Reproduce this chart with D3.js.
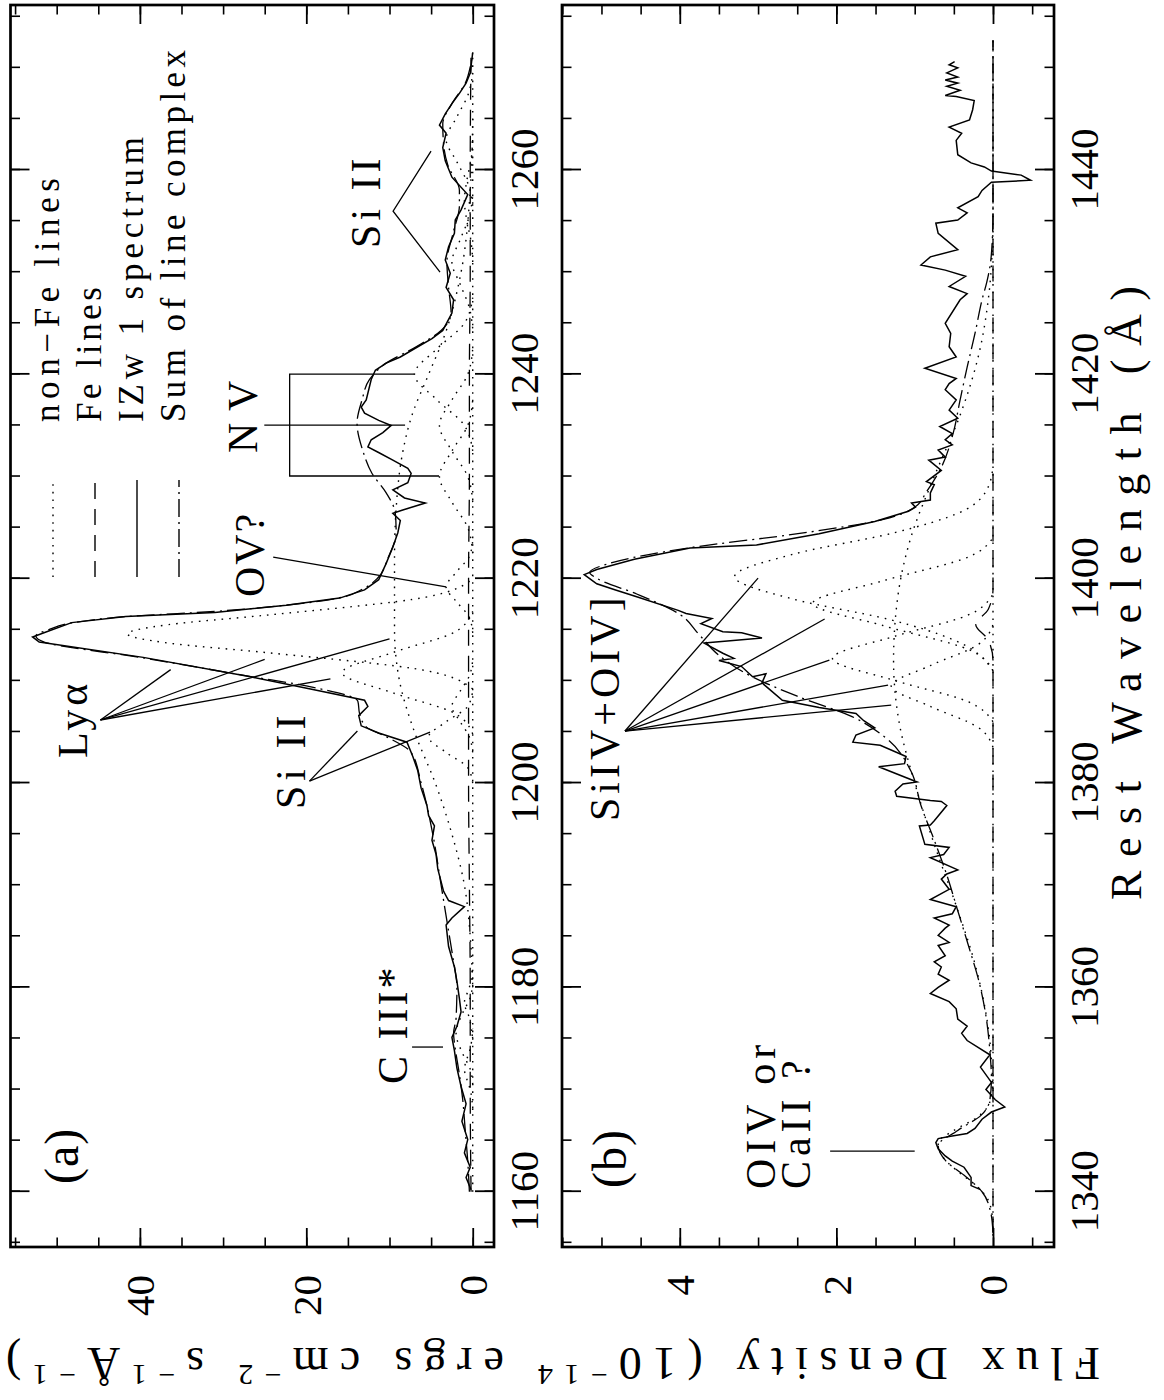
<!DOCTYPE html>
<html><head><meta charset="utf-8">
<script src="https://cdn.jsdelivr.net/npm/d3@7"></script>
<style>
body{margin:0;background:#fff;}
svg{display:block;background:#fff;}
text{font-family:"Liberation Serif","Times New Roman",serif !important;fill:#000;}
</style></head><body>
<svg id="chart" width="1164" height="1400"></svg>
<script>
// ---------------- DATA ----------------
// Panel (a): Ly-alpha region
const wlTicksA = [1160,1180,1200,1220,1240,1260];
const fluxTicksA = [0,20,40];
const specA_wl = [1160.2,1161.4,1162.4,1163.8,1165.1,1166.9,1168.6,1170.3,1172.1,1173.8,1175.1,1176.2,1177.6,1178.9,1180.6,1182.0,1184.0,1186.1,1186.8,1187.9,1188.5,1189.4,1191.6,1193.0,1194.4,1195.8,1196.8,1197.8,1199.5,1201.2,1202.6,1204.0,1204.9,1205.6,1206.6,1207.5,1208.1,1209.2,1210.4,1212.3,1213.8,1214.3,1214.8,1215.7,1216.3,1216.7,1217.4,1218.1,1218.9,1219.9,1221.5,1223.1,1224.5,1225.7,1226.4,1226.7,1227.4,1227.9,1228.7,1229.4,1230.3,1230.8,1231.6,1232.3,1232.9,1233.6,1234.3,1235.0,1235.5,1236.2,1236.8,1237.5,1239.5,1240.4,1241.1,1241.7,1242.7,1243.5,1244.3,1246.0,1247.3,1248.5,1249.9,1251.2,1252.5,1253.8,1255.1,1256.1,1257.6,1259.3,1260.9,1262.2,1263.6,1264.4,1265.5,1266.5,1267.5,1268.5,1269.5,1271.5];
const specA_flux = [0.2,0.8,0.3,1.0,0.6,1.3,0.8,1.4,1.9,2.2,2.5,1.9,1.4,1.6,1.9,2.2,2.9,3.2,2.5,1.0,2.9,3.5,4.2,4.4,4.9,4.6,5.3,5.5,6.2,6.6,7.2,7.9,11.3,13.4,13.7,12.6,13.0,19.5,26.7,39.6,52.1,52.9,51.2,48.2,41.7,31.0,22.4,16.0,13.0,11.3,10.4,9.6,9.0,8.7,9.6,8.5,5.7,8.2,9.6,7.8,7.4,7.8,9.6,11.2,12.6,12.2,10.8,9.8,11.3,13.0,13.4,12.8,12.2,11.7,10.4,8.7,6.6,4.9,3.6,2.5,2.3,3.2,2.7,3.3,2.9,2.2,2.1,1.4,0.6,2.5,3.3,3.6,3.2,4.0,3.3,2.5,1.6,0.8,0.3,0.0];
const sumA_wl = [1160,1163,1166,1169,1172,1174,1175.5,1177,1180,1183,1186,1190,1195,1200,1203,1204.5,1205.5,1206.8,1208,1209.5,1210.4,1212.3,1213.8,1214.4,1215,1215.7,1216.3,1216.8,1217.4,1218.1,1219,1220,1222,1224.5,1226.4,1228.4,1230.3,1232.5,1235.2,1237.5,1239.5,1241,1242.7,1244.3,1246,1248.5,1251,1254,1256.5,1258,1260.5,1262.5,1264.5,1266.5,1268.5,1270.5,1271.5];
const sumA_flux = [0.4,0.6,0.9,1.2,1.7,2.1,2.3,2.0,1.9,2.4,3.0,3.8,4.8,6.2,7.4,10.3,12.8,13.6,13.8,20.0,26.5,40.0,51.5,52.5,51.0,48.0,41.5,31.0,22.5,16.2,13.2,11.5,10.2,9.2,9.3,10.4,12.1,13.2,13.9,13.3,12.4,10.6,6.8,3.8,2.6,2.9,3.1,2.3,1.6,1.6,3.0,3.5,3.6,2.5,0.9,0.2,0.0];
const feA_wl = [1160,1170,1180,1190,1200,1210,1220,1230,1240,1250,1260,1271.5];
const feA_flux = [0.2,0.3,0.3,0.4,0.5,0.5,0.5,0.4,0.4,0.3,0.3,0.2];
const nonFeA = [
  [[1168,0],[1170,0.3],[1171,0.7],[1172,1.0],[1173,0.7],[1174,0.3],[1176,0]],
  [[1170.5,0],[1172,0.3],[1173.5,1.2],[1175.5,2.0],[1177.5,1.2],[1179,0.3],[1180.5,0]],
  [[1175,0],[1177,0.4],[1178.5,1.0],[1180,0.4],[1182,0]],
  [[1200,0],[1201.5,0.6],[1203,3.2],[1204.5,5.3],[1206,3.2],[1207.5,0.6],[1209,0]],
  [[1203,0],[1204.5,0.4],[1206,1.5],[1207.5,2.5],[1209,1.5],[1210.5,0.4],[1212,0]],
  [[1209.2,0],[1211,5.6],[1212.8,25.2],[1213.7,36.6],[1214.6,41.5],[1215.5,36.6],[1216.4,25.2],[1218.2,5.6],[1220,0]],
  [[1204.8,0],[1206.8,2.1],[1208.8,9.5],[1210.8,15.7],[1212.8,9.5],[1214.8,2.1],[1216.8,0]],
  [[1180,0],[1185,0.3],[1190,1.0],[1195,2.5],[1200,4.5],[1205,7.0],[1210,8.8],[1215,9.4],[1222,9.4],[1228,9.1],[1232,8.5],[1236,7.3],[1240,5.3],[1244,3.3],[1250,1.4],[1258,0.3],[1265,0]],
  [[1214.7,0],[1216.2,0.4],[1217.7,1.9],[1219.2,3.2],[1220.7,1.9],[1222.2,0.4],[1223.7,0]],
  [[1232.5,0],[1235,1.0],[1237.5,4.3],[1240,7.0],[1242.5,4.3],[1245,1.0],[1247.5,0]],
  [[1227.5,0],[1230,0.6],[1232.5,2.5],[1235,4.0],[1237.5,2.5],[1240,0.6],[1242.5,0]],
  [[1222.5,0],[1225,0.6],[1227.5,2.5],[1230,4.0],[1232.5,2.5],[1235,0.6],[1237.5,0]],
  [[1256.5,0],[1258.5,0.5],[1260.8,1.9],[1263,3.2],[1265.2,1.9],[1267.5,0.5],[1269.5,0]],
  [[1244.5,0],[1246.5,0.4],[1248.8,1.5],[1251,2.5],[1253.2,1.5],[1255.5,0.4],[1257.5,0]],
  [[1251,0],[1253,0.2],[1255,0.7],[1257,1.0],[1259,0.7],[1261,0.2],[1263,0]],
  [[1160,0],[1271.5,0]]
];

// Panel (b): Si IV + O IV] region
const wlTicksB = [1340,1360,1380,1400,1420,1440];
const fluxTicksB = [0,2,4];
const specB_wl = [1340.2,1340.6,1341.4,1342.4,1343.0,1343.5,1344.2,1344.8,1345.2,1345.4,1345.7,1346.2,1347.1,1347.8,1348.3,1349.0,1350.0,1350.7,1352.2,1353.4,1354.8,1355.5,1356.2,1356.9,1357.9,1358.6,1359.4,1360.0,1360.7,1361.3,1362.0,1362.5,1363.1,1364.1,1364.4,1365.1,1365.8,1366.1,1366.8,1367.2,1367.9,1368.6,1369.6,1370.6,1371.1,1371.5,1372.7,1373.0,1373.7,1374.0,1375.8,1375.9,1376.3,1377.8,1378.2,1378.3,1378.7,1379.2,1379.9,1380.1,1381.6,1381.9,1382.6,1383.7,1384.0,1384.7,1385.4,1386.1,1386.8,1387.4,1388.1,1389.8,1390.7,1390.4,1391.4,1392.0,1392.2,1392.7,1393.7,1393.8,1394.2,1394.7,1394.8,1395.6,1396.1,1396.6,1396.9,1398.2,1398.9,1399.5,1400.4,1400.9,1401.9,1403.0,1403.3,1404.4,1405.6,1406.6,1407.0,1407.4,1407.7,1408.4,1409.2,1409.5,1410.6,1411.6,1411.9,1412.6,1413.1,1413.6,1414.2,1414.9,1415.7,1416.5,1417.5,1418.5,1419.1,1419.6,1420.6,1421.7,1422.7,1424.0,1425.0,1427.3,1427.9,1428.6,1429.6,1430.2,1430.7,1431.5,1432.2,1433.8,1434.8,1435.1,1435.8,1436.3,1437.4,1438.0,1438.8,1439.0,1439.5,1439.9,1440.3,1440.7,1441.5,1442.9,1443.6,1444.2,1444.9,1445.9,1446.8,1447.2,1447.3,1447.8,1448.2,1448.5,1448.8,1449.1,1449.5,1450.0,1450.3,1450.6];
const specB_flux = [0.16,0.28,0.28,0.37,0.52,0.61,0.70,0.73,0.70,0.56,0.33,0.23,0.14,0.02,-0.15,-0.03,0.09,0.02,0.16,0.04,0.33,0.40,0.33,0.45,0.47,0.56,0.80,0.70,0.56,0.70,0.66,0.75,0.61,0.70,0.56,0.70,0.61,0.56,0.75,0.52,0.47,0.80,0.56,0.66,0.59,0.45,0.80,0.63,0.56,0.87,0.94,0.80,0.75,0.59,0.66,0.80,1.23,1.25,1.15,0.97,1.46,1.13,1.11,1.44,1.79,1.75,1.51,1.65,1.75,2.22,2.69,2.95,2.90,3.07,3.21,3.50,3.31,3.45,3.69,3.54,2.95,3.21,3.45,3.73,3.59,3.92,4.02,4.54,4.82,5.06,5.22,5.06,4.58,3.87,3.02,2.22,1.51,1.08,0.99,1.04,0.80,0.80,0.75,0.85,0.66,0.82,0.61,0.70,0.52,0.61,0.52,0.68,0.45,0.56,0.47,0.61,0.56,0.47,0.87,0.47,0.56,0.54,0.61,0.42,0.33,0.56,0.35,0.61,0.92,0.80,0.45,0.70,0.73,0.45,0.33,0.45,0.19,0.14,0.02,-0.48,-0.36,0.02,0.11,0.28,0.45,0.47,0.40,0.56,0.30,0.26,0.24,0.47,0.61,0.42,0.59,0.45,0.61,0.45,0.59,0.45,0.56,0.49];
const sumB_wl = [1336,1338,1340,1341.5,1343,1344.5,1346,1347.5,1349,1351,1353.8,1357.2,1360.6,1364,1367.5,1371,1374.4,1377.8,1381.2,1384.3,1386.5,1388.5,1390.5,1392.5,1394.5,1396.5,1398.5,1400,1400.6,1401.5,1403,1404.5,1405.8,1407,1408.5,1410.9,1414.2,1417.5,1420.7,1424,1427.3,1429,1430.5,1433,1436,1452.7];
const sumB_flux = [0,0.03,0.14,0.35,0.6,0.7,0.45,0.15,0.04,0.02,0.04,0.09,0.18,0.31,0.45,0.59,0.75,0.92,1.05,1.35,1.8,2.5,3.1,3.5,3.75,4.0,4.55,5.05,5.15,4.9,3.9,2.4,1.4,1.0,0.85,0.66,0.51,0.42,0.33,0.23,0.14,0.08,0.04,0.01,0,0];
const feB_wl = [1336,1392,1394,1395.5,1397,1399,1452.7];
const feB_flux = [0,0,0.06,0.22,0.06,0,0];
const nonFeB = [
  [[1337,0],[1339,0.05],[1340.5,0.2],[1342,0.45],[1343.5,0.65],[1344.8,0.7],[1346,0.5],[1347.3,0.2],[1348.8,0.04],[1351,0]],
  [[1350,0],[1356,0.06],[1362,0.22],[1368,0.47],[1374,0.75],[1380,1.0],[1386,1.2],[1392,1.27],[1398,1.22],[1404,1.05],[1410,0.75],[1416,0.42],[1422,0.18],[1428,0.05],[1434,0]],
  [[1391,0],[1394,0.5],[1396,1.32],[1398,2.55],[1400.2,3.3],[1402.4,2.55],[1404.5,1.26],[1406.5,0.42],[1409,0.06],[1411,0]],
  [[1391,0],[1393,0.29],[1395.4,1.4],[1397.6,2.3],[1399.8,1.4],[1402.2,0.29],[1404,0]],
  [[1386,0],[1388,0.33],[1390,1.24],[1392.2,2.05],[1394.4,1.24],[1396.4,0.33],[1398.5,0]],
  [[1383.5,0],[1385.5,0.2],[1387.5,0.8],[1389.5,1.3],[1391.5,0.8],[1393.5,0.2],[1395.5,0]],
  [[1335.7,0],[1452.7,0]]
];

// annotations (wavelength, flux)
const annotLinesA = [
  [[1206.17,44.74],[1211.1,36.3]],
  [[1206.17,44.74],[1212.1,25.0]],
  [[1206.17,44.74],[1214.1,10.0]],
  [[1206.17,44.74],[1210.2,17.1]],
  [[1200.19,19.62],[1205.09,13.86]],
  [[1200.19,19.62],[1204.99,5.13]],
  [[1222.12,23.98],[1219.19,3.21]],
  [[1240.03,7.05],[1240.03,22.0],[1230.05,22.0],[1230.05,4.05]],
  [[1235.04,25.05],[1235.04,8.13]],
  [[1261.84,5.01],[1255.97,9.57],[1250.0,3.93]],
  [[1174.16,7.29],[1174.16,3.57]]
];
const annotTextA = [
  {t:"(a)", wl:1160.76, f:47.38, ls:1, fs:48},
  {t:"Ly\u03b1", wl:1202.45, f:46.3, ls:4, fs:42},
  {t:"Si II", wl:1197.46, f:20.13, ls:5, fs:42},
  {t:"OV?", wl:1218.2, f:25.05, ls:2, fs:42},
  {t:"N V", wl:1232.3, f:25.9, ls:1, fs:42},
  {t:"Si II", wl:1252.37, f:11.13, ls:4, fs:42},
  {t:"C III*", wl:1170.54, f:7.89, ls:3, fs:42}
];
const annotLinesB = [
  [[1343.98,2.08],[1343.98,1.0]],
  [[1385.09,4.70],[1400.06,3.00]],
  [[1385.09,4.70],[1396.05,2.15]],
  [[1385.09,4.70],[1392.04,2.09]],
  [[1385.09,4.70],[1389.59,1.34]],
  [[1385.09,4.70],[1387.63,1.30]]
];
const annotTextB = [
  {t:"(b)", wl:1340.36, f:4.687, ls:1, fs:48},
  {t:"SiIV+OIV]", wl:1376.28, f:4.776, ls:4, fs:42},
  {t:"OIV or", wl:1340.26, f:2.784, ls:5, fs:42},
  {t:"CaII ?", wl:1340.26, f:2.337, ls:5, fs:42}
];
const legendLabels = ["non\u2212Fe lines","Fe lines","IZw 1 spectrum","Sum of line complex"];
const legendStyles = ["dot","dash","solid","dashdot"];

// ---------------- LAYOUT ----------------
const FONT = '"Liberation Serif","Times New Roman",serif';
const DASH = {dot:"1.6,6", dash:"16,10", solid:null, dashdot:"18,5,2,5"};
const svg = d3.select('#chart');
// landscape frame: u along image bottom->top, v along image left->right
const root = svg.append('g').attr('transform','translate(0,1400) rotate(-90)');
const U0 = 153, U1 = 1395;

function panel(cfg){
  const x = d3.scaleLinear().domain(cfg.wl).range([U0,U1]);
  const y = d3.scaleLinear().domain(cfg.fl).range([cfg.vBot,cfg.vTop]);
  const g = root.append('g');
  const minorWl = d3.range(Math.ceil(cfg.wl[0]/5)*5, cfg.wl[1], 5);
  const minorFl = d3.range(Math.ceil(cfg.fl[0]/cfg.fMinor)*cfg.fMinor, cfg.fl[1]+1e-9, cfg.fMinor).map(v=>+v.toFixed(3));
  const mk = [()=>d3.axisBottom(x), ()=>d3.axisTop(x), ()=>d3.axisLeft(y), ()=>d3.axisRight(y)];
  const pos = [cfg.vBot, cfg.vTop, U0, U1];
  mk.forEach((m,i)=>{
    const isX = i<2;
    const tr = isX ? `translate(0,${pos[i]})` : `translate(${pos[i]},0)`;
    const gm = g.append('g').attr('transform',tr)
      .call(m().tickValues(isX?minorWl:minorFl).tickSize(-9.5).tickFormat(''));
    gm.select('.domain').remove();
    gm.selectAll('line').attr('stroke','#000').attr('stroke-width',1.6);
    const gM = g.append('g').attr('transform',tr)
      .call(m().tickValues(isX?cfg.wlTicks:cfg.flTicks).tickSize(-19)
        .tickFormat((i===0||i===2)?d3.format('d'):''));
    gM.select('.domain').remove();
    gM.attr('font-family',FONT).attr('font-size',41);
    gM.selectAll('line').attr('stroke','#000').attr('stroke-width',1.8);
    if(i===0) gM.selectAll('text').attr('y',44).attr('dy',0).attr('fill','#000');
    if(i===2) gM.selectAll('text').attr('x',-28).attr('dy','0.34em').attr('fill','#000');
  });
  g.append('rect').attr('x',U0).attr('y',cfg.vTop).attr('width',U1-U0).attr('height',cfg.vBot-cfg.vTop)
    .attr('fill','none').attr('stroke','#000').attr('stroke-width',2.7);

  const plot = g.append('g');
  const smooth = d3.line().x(d=>x(d[0])).y(d=>y(d[1])).curve(d3.curveMonotoneX);
  const straight = d3.line().x(d=>x(d[0])).y(d=>y(d[1]));
  const draw = (pts, gen, style, w) => plot.append('path').attr('d',gen(pts)).attr('fill','none')
      .attr('stroke','#000').attr('stroke-width',w||1.3).attr('stroke-dasharray',DASH[style]);
  cfg.nonFe.forEach(c=>draw(c, smooth, 'dot', 1.4));
  draw(d3.zip(cfg.feWl,cfg.feFl), smooth, 'dash');
  draw(d3.zip(cfg.sumWl,cfg.sumFl), smooth, 'dashdot');
  draw(d3.zip(cfg.specWl,cfg.specFl), straight, 'solid', 1.5);
  cfg.lines.forEach(l=>plot.append('path').attr('d',straight(l)).attr('fill','none')
      .attr('stroke','#000').attr('stroke-width',1.3));
  cfg.texts.forEach(t=>g.append('text').attr('x',x(t.wl)).attr('y',y(t.f))
      .attr('font-family',FONT).style('letter-spacing',t.ls+'px')
      .style('font-size',t.fs+'px').text(t.t));
  return {x,y,g};
}

const pa = panel({wl:[1154.59,1276.15], fl:[-2.557,55.55], vBot:494, vTop:10.5,
  wlTicks:wlTicksA, flTicks:fluxTicksA, fMinor:5,
  specWl:specA_wl, specFl:specA_flux, sumWl:sumA_wl, sumFl:sumA_flux,
  feWl:feA_wl, feFl:feA_flux, nonFe:nonFeA, lines:annotLinesA, texts:annotTextA});
const pb = panel({wl:[1334.59,1456.15], fl:[-0.779,5.504], vBot:1054, vTop:562,
  wlTicks:wlTicksB, flTicks:fluxTicksB, fMinor:0.5,
  specWl:specB_wl, specFl:specB_flux, sumWl:sumB_wl, sumFl:sumB_flux,
  feWl:feB_wl, feFl:feB_flux, nonFe:nonFeB, lines:annotLinesB, texts:annotTextB});

// legend (panel a)
const legLen = [244,135,285,372];
const legV = [53,95,137,179];
legendLabels.forEach((lab,i)=>{
  pa.g.append('line').attr('x1',823).attr('x2',920).attr('y1',legV[i]).attr('y2',legV[i])
    .attr('stroke','#000').attr('stroke-width',1.4).attr('stroke-dasharray',DASH[legendStyles[i]]);
  pa.g.append('text').attr('x',978).attr('y',legV[i]+6).attr('textLength',legLen[i])
    .attr('lengthAdjust','spacing').attr('font-family',FONT).style('font-size','35px').text(lab);
});

// axis titles
root.append('text').attr('x',807).attr('y',1141).attr('text-anchor','middle')
  .attr('textLength',614).attr('lengthAdjust','spacing').attr('font-family',FONT).style('font-size','44px')
  .text('Rest Wavelength (\u00c5)');
const yl = root.append('text').attr('transform','translate(52,553) rotate(-90)')
  .attr('text-anchor','middle').attr('textLength',1094).attr('lengthAdjust','spacing')
  .attr('font-family',FONT).style('font-size','46px');
yl.append('tspan').text('Flux Density (10');
yl.append('tspan').attr('dy',-17).style('font-size','30px').text('\u221214');
yl.append('tspan').attr('dy',17).text(' ergs cm');
yl.append('tspan').attr('dy',-17).style('font-size','30px').text('\u22122');
yl.append('tspan').attr('dy',17).text(' s');
yl.append('tspan').attr('dy',-17).style('font-size','30px').text('\u22121');
yl.append('tspan').attr('dy',17).text('\u00c5');
yl.append('tspan').attr('dy',-17).style('font-size','30px').text('\u22121');
yl.append('tspan').attr('dy',17).text(')');
</script>
</body></html>
